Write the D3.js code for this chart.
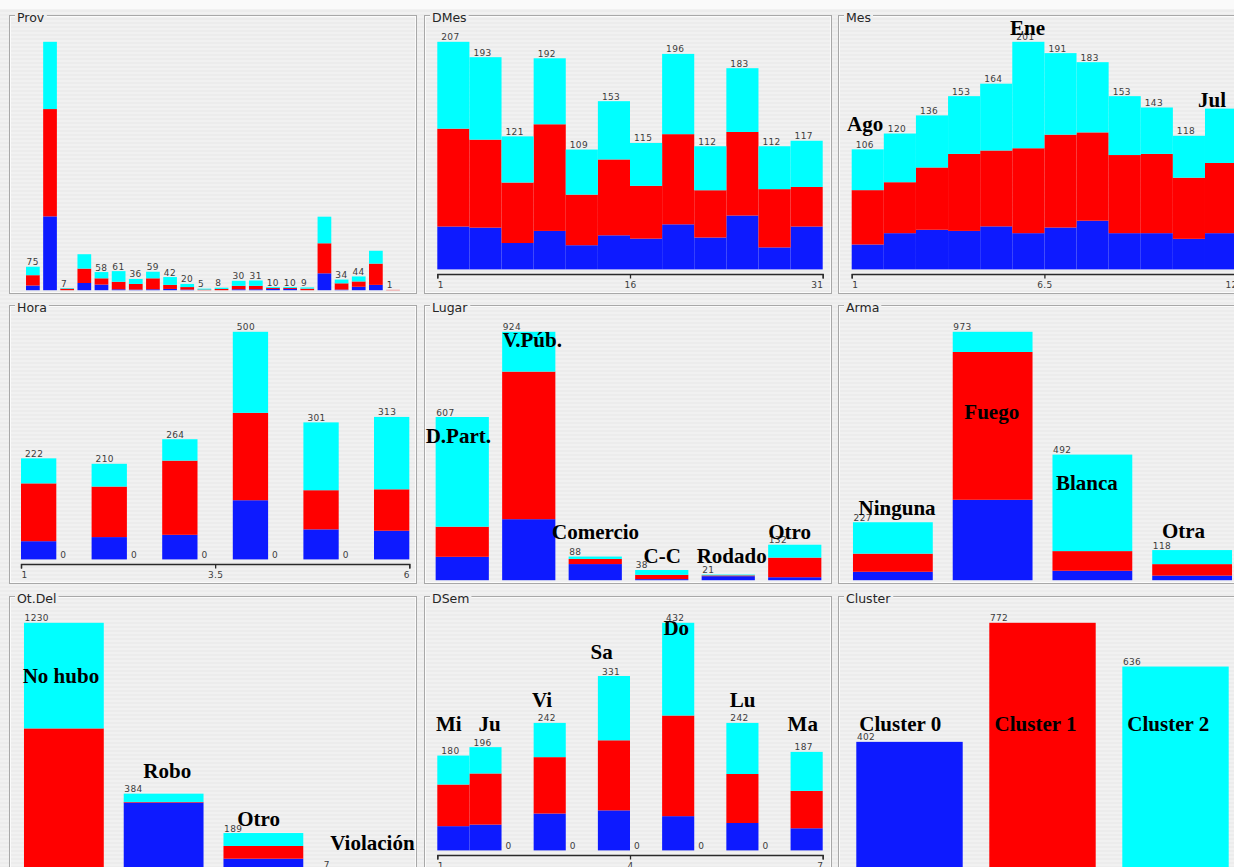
<!DOCTYPE html>
<html><head><meta charset="utf-8">
<script src="https://cdn.jsdelivr.net/npm/d3@7"></script>
<style>
html,body{margin:0;padding:0;background:#eeeeee;overflow:hidden}
svg{display:block}
</style></head><body>
<svg id="chart" width="1234" height="867"></svg>
<script>
// ---------------- DATA ----------------
const clusterKeys = ["Cluster 0", "Cluster 1", "Cluster 2"];

const provCats = ["1","2","3","4","5","6","7","8","9","10","11","12","13","14","15","16","17","18","19","20","21","22"];
const provC0 = [15,236,0,23,18,3,2,3,4,2,0,0,3,3,4,4,0,54,2,11,17,0];
const provC1 = [33,343,5,46,20,24,18,35,13,8,2,4,11,11,3,3,5,96,20,17,68,1];
const provC2 = [27,215,2,46,20,34,16,21,25,10,3,4,16,17,3,3,4,85,12,16,41,0];

const dmesBins = ["b1","b2","b3","b4","b5","b6","b7","b8","b9","b10","b11","b12"];
const dmesC0 = [39,38,24,35,22,31,28,41,29,49,20,39];
const dmesC1 = [89,80,55,97,46,69,48,82,43,76,53,36];
const dmesC2 = [79,75,42,60,41,53,39,73,40,58,39,42];
const dmesTicks = ["1","16","31"];

const mesBins = ["b1","b2","b3","b4","b5","b6","b7","b8","b9","b10","b11","b12"];
const mesC0 = [22,32,35,34,38,32,37,43,32,32,27,32];
const mesC1 = [48,45,55,68,67,75,82,78,69,70,54,62];
const mesC2 = [36,43,46,51,59,94,72,62,52,41,37,48];
const mesTicks = ["1","6.5","12"];
const mesNames = [["Ago",0],["Ene",5],["Jul",11]];

const horaBins = ["b1","b2","b3","b4","b5","b6","b7","b8","b9","b10","b11"];
const horaC0 = [40,0,49,0,54,0,130,0,66,0,63];
const horaC1 = [127,0,111,0,163,0,192,0,86,0,91];
const horaC2 = [55,0,50,0,47,0,178,0,149,0,159];
const horaTicks = ["1","3.5","6"];

const lugarCats = ["D.Part.","V.Púb.","Comercio","C-C","Rodado","Otro"];
const lugarC0 = [87,227,60,4,15,11];
const lugarC1 = [112,549,19,16,3,73];
const lugarC2 = [408,148,9,18,3,48];

const armaCats = ["Ninguna","Fuego","Blanca","Otra"];
const armaC0 = [33,315,37,18];
const armaC1 = [71,579,77,45];
const armaC2 = [123,79,378,55];

const otdelCats = ["No hubo","Robo","Otro","Violación"];
const otdelC0 = [3,340,62,2];
const otdelC1 = [704,3,63,2];
const otdelC2 = [523,41,64,3];

const dsemBins = ["b1","b2","b3","b4","b5","b6","b7","b8","b9","b10","b11","b12"];
const dsemC0 = [46,49,0,70,0,76,0,65,0,52,0,42];
const dsemC1 = [79,97,0,107,0,133,0,191,0,93,0,71];
const dsemC2 = [55,50,0,65,0,122,0,176,0,97,0,74];
const dsemTicks = ["1","4","7"];
const dsemNames = [["Mi",0],["Ju",1],["Vi",3],["Sa",5],["Do",7],["Lu",9],["Ma",11]];

const clusterCats = ["Cluster 0","Cluster 1","Cluster 2"];
const clusterC0 = [402,0,0];
const clusterC1 = [0,772,0];
const clusterC2 = [0,0,636];

// ---------------- LAYOUT / STYLE ----------------
const COLORS = ["#0d1aff", "#ff0000", "#00ffff"];
const COLS = [9, 424, 838], ROWS = [15, 305, 596], PW = 407, PH = 278;
const LABEL_FONT = "'DejaVu Sans', sans-serif";
const BIG_FONT = "'Liberation Serif', 'Times New Roman', serif";

// annotation placement: [dx from bar left, baseline offset from panel top]
const annLayout = {
  "Mes": [[-4.7,116],[-2.3,20.3],[-7,92.3]],
  "Lugar": [[-10,138.3],[0.6,42.3],[-16.6,234.3],[8.4,258.3],[-5,258.3],[0,234.3]],
  "Arma": [[5.6,210],[11.6,114],[3.4,185],[9.7,233.3]],
  "Ot.Del": [[-1.3,86.7],[19.6,182.3],[13.7,229.7],[7,254]],
  "DSem": [[-1.3,135],[9,135],[-1.7,111.3],[-7.3,63],[1.3,39],[3.4,111.3],[-3,135]],
  "Cluster": [[3,135],[5.3,135],[5,135]]
};

const panels = [
  {title:"Prov", col:0, row:0, type:"nominal", cats:provCats, series:[provC0,provC1,provC2], xr:[15.3,392.6], names:null},
  {title:"DMes", col:1, row:0, type:"numeric", cats:dmesBins, series:[dmesC0,dmesC1,dmesC2], xr:[13.3,398.7], ticks:dmesTicks},
  {title:"Mes", col:2, row:0, type:"numeric", cats:mesBins, series:[mesC0,mesC1,mesC2], xr:[13.7,399.1], ticks:mesTicks, names:mesNames, hideLabels:[11]},
  {title:"Hora", col:0, row:1, type:"numeric", cats:horaBins, series:[horaC0,horaC1,horaC2], xr:[12,400.3], ticks:horaTicks},
  {title:"Lugar", col:1, row:1, type:"nominal", cats:lugarCats, series:[lugarC0,lugarC1,lugarC2], xr:[5,404], names:"cats"},
  {title:"Arma", col:2, row:1, type:"nominal", cats:armaCats, series:[armaC0,armaC1,armaC2], xr:[5,404], names:"cats"},
  {title:"Ot.Del", col:0, row:2, type:"nominal", cats:otdelCats, series:[otdelC0,otdelC1,otdelC2], xr:[5,404], names:"cats"},
  {title:"DSem", col:1, row:2, type:"numeric", cats:dsemBins, series:[dsemC0,dsemC1,dsemC2], xr:[13.3,398.7], ticks:dsemTicks, names:dsemNames},
  {title:"Cluster", col:2, row:2, type:"nominal", cats:clusterCats, series:[clusterC0,clusterC1,clusterC2], xr:[5,404], names:"cats"}
];

// ---------------- DRAW ----------------
const svg = d3.select("#chart");
const defs = svg.append("defs");
const pat = defs.append("pattern").attr("id","stripes").attr("patternUnits","userSpaceOnUse")
  .attr("width",4).attr("height",4);
pat.append("rect").attr("width",4).attr("height",4).attr("fill","#f1f1f1");
pat.append("rect").attr("y",2).attr("width",4).attr("height",2).attr("fill","#ececec");
svg.append("rect").attr("width",1234).attr("height",867).attr("fill","url(#stripes)");
svg.append("rect").attr("width",1234).attr("height",9).attr("fill","#fafafa");

const annLayer = [];

panels.forEach(p => {
  const x0 = COLS[p.col], y0 = ROWS[p.row];
  const g = svg.append("g");
  // frame (etched)
  g.append("rect").attr("x",x0+0.5).attr("y",y0+0.5).attr("width",PW).attr("height",PH)
    .attr("fill","none").attr("stroke","#a8a8a8");
  g.append("rect").attr("x",x0+1.5).attr("y",y0+1.5).attr("width",PW-2).attr("height",PH-2)
    .attr("fill","none").attr("stroke","#fbfbfb");
  // title
  const tg = g.append("g");
  const t = tg.append("text").attr("x",x0+8).attr("y",y0+7)
    .attr("font-family",LABEL_FONT).attr("font-size",12.5).attr("fill","#262626").text(p.title);
  const bb = t.node().getBBox();
  tg.insert("rect","text").attr("x",bb.x-2).attr("y",y0-2).attr("width",bb.width+4).attr("height",5)
    .attr("fill","#efefef");

  const n = p.cats.length;
  const rows = d3.range(n).map(i => ({key:p.cats[i], c0:p.series[0][i], c1:p.series[1][i], c2:p.series[2][i]}));
  const totals = rows.map(r => r.c0 + r.c1 + r.c2);
  const maxV = d3.max(totals);
  const base = y0 + (p.type === "nominal" ? 275.2 : 254.4);
  const y = d3.scaleLinear().domain([0, maxV]).range([base, y0 + 26.8]);

  let barLeft, barW, labelDx;
  let xs;
  if (p.type === "nominal") {
    xs = d3.scaleBand().domain(p.cats).range([x0 + p.xr[0], x0 + p.xr[1]]).paddingInner(0.2).paddingOuter(0.1);
    barLeft = i => xs(p.cats[i]);
    barW = xs.bandwidth();
    labelDx = 0.6;
  } else {
    xs = d3.scaleLinear().domain([0, n]).range([x0 + p.xr[0], x0 + p.xr[1]]);
    barLeft = i => xs(i);
    barW = xs(1) - xs(0);
    labelDx = 4;
  }

  const stacked = d3.stack().keys(["c0","c1","c2"])(rows);
  stacked.forEach((layer, li) => {
    g.append("g").selectAll("rect").data(layer.map((d,i)=>({d,i})).filter(o => o.d[1] - o.d[0] > 0))
      .join("rect")
      .attr("x", o => barLeft(o.i))
      .attr("width", barW)
      .attr("y", o => y(o.d[1]))
      .attr("height", o => y(o.d[0]) - y(o.d[1]))
      .attr("fill", COLORS[li]);
  });

  // value labels
  const lg = g.append("g");
  totals.forEach((v, i) => {
    if (p.hideLabels && p.hideLabels.includes(i)) return;
    const tx = lg.append("text").attr("x", barLeft(i) + labelDx).attr("y", y(v) - 1.5)
      .attr("font-family", LABEL_FONT).attr("font-size", 9).attr("letter-spacing", 0.35)
      .attr("fill", "#3c3c3c").text(v);
    if (tx.node().getComputedTextLength() > barW + 1) tx.remove();
  });

  // axis for numeric
  if (p.type === "numeric") {
    const vals = p.ticks.map(Number);
    const ax = d3.scaleLinear().domain([vals[0], vals[2]]).range([xs(0), xs(n)]);
    const axis = d3.axisBottom(ax).tickValues(vals).tickSize(4.5).tickSizeOuter(4.5).tickPadding(3)
      .tickFormat((d,i) => p.ticks[i]);
    const agEl = g.append("g").attr("transform", `translate(0,${base + 4.6})`).call(axis);
    agEl.select(".domain").attr("stroke","#2a2a2a").attr("stroke-width",1.3);
    agEl.selectAll(".tick line").attr("stroke","#2a2a2a").attr("stroke-width",1.3);
    agEl.selectAll(".tick text").attr("font-family",LABEL_FONT).attr("font-size",9)
      .attr("letter-spacing",0.3).attr("fill","#3c3c3c")
      .attr("text-anchor",(d,i)=> i===0 ? "start" : (i===2 ? "end" : "middle"));
  }

  // annotations
  if (p.names) {
    const lay = annLayout[p.title];
    const list = p.names === "cats" ? p.cats.map((c,i)=>[c,i]) : p.names;
    list.forEach((nm, k) => {
      annLayer.push({text:nm[0], x: barLeft(nm[1]) + lay[k][0], y: y0 + lay[k][1]});
    });
  }
});

svg.append("g").selectAll("text").data(annLayer).join("text")
  .attr("x", d => d.x).attr("y", d => d.y)
  .attr("font-family", BIG_FONT).attr("font-weight","bold").attr("font-size",21)
  .attr("fill","#000").text(d => d.text);
</script>
</body></html>
